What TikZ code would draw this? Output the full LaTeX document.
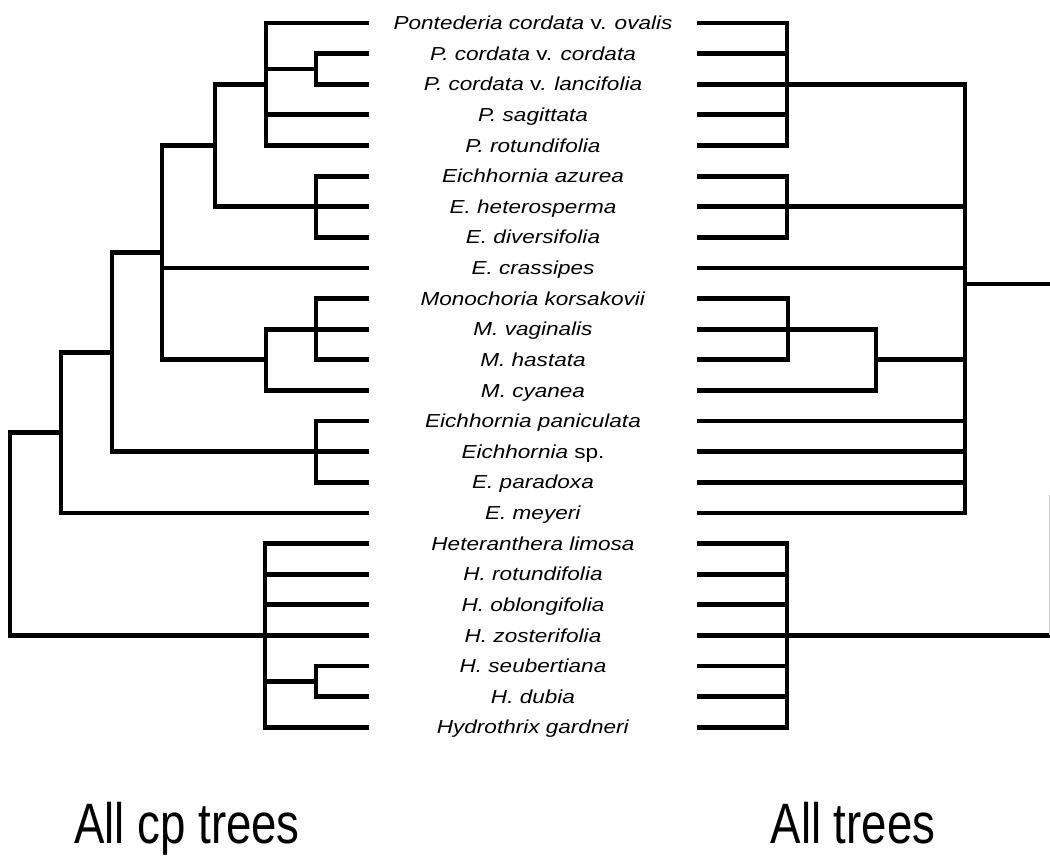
\documentclass[tikz,border=0pt]{standalone}
\usepackage{fontspec}
\usepackage{graphicx}
\setmainfont{Liberation Sans}
\newcommand\lbl[1]{\scalebox{1.2}[1]{#1}}
\newcommand\ttltext[1]{\scalebox{0.8}[1]{#1}}
\begin{document}
\begin{tikzpicture}[x=1pt,y=-1pt,
  br/.style={line width=4.8pt, line join=miter, line cap=butt},
  lab/.style={anchor=base, inner sep=0pt, font=\fontsize{18.8}{20}\selectfont},
  ttl/.style={anchor=base, inner sep=0pt, font=\fontsize{57}{60}\selectfont}]
\useasboundingbox (0,0) rectangle (1050,865);
\fill[white] (0,0) rectangle (1050,865);
% leaf end points
\foreach \i in {1,...,24}{
  \coordinate (L\i) at (369,{23+(\i-1)*30.62});
  \coordinate (R\i) at (697,{23+(\i-1)*30.62});
}
% ---------- labels ----------
\newcommand\Y[1]{23+(#1-1)*30.62+6.6}
\node[lab] (t1) at (533,{\Y{1}}) {\lbl{\textit{Pontederia cordata} v. \textit{ovalis}}};
\node[lab] (t2) at (533,{\Y{2}}) {\lbl{\textit{P. cordata} v. \textit{cordata}}};
\node[lab] (t3) at (533,{\Y{3}}) {\lbl{\textit{P. cordata} v. \textit{lancifolia}}};
\node[lab] (t4) at (533,{\Y{4}}) {\lbl{\textit{P. sagittata}}};
\node[lab] (t5) at (533,{\Y{5}}) {\lbl{\textit{P. rotundifolia}}};
\node[lab] (t6) at (533,{\Y{6}}) {\lbl{\textit{Eichhornia azurea}}};
\node[lab] (t7) at (533,{\Y{7}}) {\lbl{\textit{E. heterosperma}}};
\node[lab] (t8) at (533,{\Y{8}}) {\lbl{\textit{E. diversifolia}}};
\node[lab] (t9) at (533,{\Y{9}}) {\lbl{\textit{E. crassipes}}};
\node[lab] (t10) at (533,{\Y{10}}) {\lbl{\textit{Monochoria korsakovii}}};
\node[lab] (t11) at (533,{\Y{11}}) {\lbl{\textit{M. vaginalis}}};
\node[lab] (t12) at (533,{\Y{12}}) {\lbl{\textit{M. hastata}}};
\node[lab] (t13) at (533,{\Y{13}}) {\lbl{\textit{M. cyanea}}};
\node[lab] (t14) at (533,{\Y{14}}) {\lbl{\textit{Eichhornia paniculata}}};
\node[lab] (t15) at (533,{\Y{15}}) {\lbl{\textit{Eichhornia} sp.}};
\node[lab] (t16) at (533,{\Y{16}}) {\lbl{\textit{E. paradoxa}}};
\node[lab] (t17) at (533,{\Y{17}}) {\lbl{\textit{E. meyeri}}};
\node[lab] (t18) at (533,{\Y{18}}) {\lbl{\textit{Heteranthera limosa}}};
\node[lab] (t19) at (533,{\Y{19}}) {\lbl{\textit{H. rotundifolia}}};
\node[lab] (t20) at (533,{\Y{20}}) {\lbl{\textit{H. oblongifolia}}};
\node[lab] (t21) at (533,{\Y{21}}) {\lbl{\textit{H. zosterifolia}}};
\node[lab] (t22) at (533,{\Y{22}}) {\lbl{\textit{H. seubertiana}}};
\node[lab] (t23) at (533,{\Y{23}}) {\lbl{\textit{H. dubia}}};
\node[lab] (t24) at (533,{\Y{24}}) {\lbl{\textit{Hydrothrix gardneri}}};
% ---------- left tree: internal nodes ----------
\newcommand\R[1]{23+(#1-1)*30.62}
\coordinate (nP)  at (266,{\R{3}});
\coordinate (nPc) at (316,{\R{2.5}});
\coordinate (nEa) at (316,{\R{7}});
\coordinate (nPE) at (215,{\R{5}});
\coordinate (nM3) at (316,{\R{11}});
\coordinate (nM)  at (266,{\R{12}});
\coordinate (nA)  at (162,{\R{8.5}});
\coordinate (nEp) at (316,{\R{15}});
\coordinate (nB)  at (112,{\R{11.75}});
\coordinate (nC)  at (61,{\R{14.375}});
\coordinate (nH)  at (265,{\R{21}});
\coordinate (nHs) at (316,{\R{22.5}});
\coordinate (nRoot) at (10,{\R{17.6875}});
% Pontederia
\draw[br] (L1) -- (L1 -| nP) -- (L5 -| nP) -- (L5);
\draw[br] (L4 -| nP) -- (L4);
\draw[br] (L2) -- (L2 -| nPc) -- (L3 -| nPc) -- (L3);
\draw[br] (nPc -| nP) -- (nPc);
% Eichhornia azurea group
\draw[br] (L6) -- (L6 -| nEa) -- (L8 -| nEa) -- (L8);
\draw[br] (nEa) -- (L7);
% join
\draw[br] (nP) -- (nP -| nPE) -- (nEa -| nPE) -- (nEa);
% Monochoria
\draw[br] (L10) -- (L10 -| nM3) -- (L12 -| nM3) -- (L12);
\draw[br] (nM3) -- (L11);
\draw[br] (nM3) -- (nM3 -| nM) -- (L13 -| nM) -- (L13);
% node A
\draw[br] (nPE) -- (nPE -| nA) -- (nM -| nA) -- (nM);
\draw[br] (L9 -| nA) -- (L9);
% E. paniculata group
\draw[br] (L14) -- (L14 -| nEp) -- (L16 -| nEp) -- (L16);
\draw[br] (nEp) -- (L15);
% node B
\draw[br] (nA) -- (nA -| nB) -- (nEp -| nB) -- (nEp);
% node C
\draw[br] (nB) -- (nB -| nC) -- (L17 -| nC) -- (L17);
% Heteranthera
\draw[br] (L18) -- (L18 -| nH) -- (L24 -| nH) -- (L24);
\draw[br] (L19 -| nH) -- (L19);
\draw[br] (L20 -| nH) -- (L20);
\draw[br] (L22) -- (L22 -| nHs) -- (L23 -| nHs) -- (L23);
\draw[br] (nHs -| nH) -- (nHs);
% root
\draw[br] (nC) -- (nC -| nRoot) -- (L21 -| nRoot) -- (L21);
% ---------- right tree ----------
\coordinate (rP)  at (787,{\R{3}});
\coordinate (rEa) at (787,{\R{7}});
\coordinate (rM3) at (788,{\R{11}});
\coordinate (rM)  at (876,{\R{12}});
\coordinate (rR)  at (965,284);
\coordinate (rH)  at (787,{\R{21}});
\coordinate (rOut1) at (1052,284);
\coordinate (rOut2) at (1052,{\R{21}});
\coordinate (rEdgeA) at (1049.3,495);
\coordinate (rEdgeB) at (1049.3,{\R{21}});
\draw[br] (R1) -- (R1 -| rP) -- (R5 -| rP) -- (R5);
\draw[br] (R2) -- (R2 -| rP);
\draw[br] (R4) -- (R4 -| rP);
\draw[br] (R3) -- (R3 -| rR) -- (R17 -| rR) -- (R17);
\draw[br] (R6) -- (R6 -| rEa) -- (R8 -| rEa) -- (R8);
\draw[br] (R7) -- (R7 -| rR);
\draw[br] (R9) -- (R9 -| rR);
\draw[br] (R10) -- (R10 -| rM3) -- (R12 -| rM3) -- (R12);
\draw[br] (R11) -- (R11 -| rM) -- (R13 -| rM) -- (R13);
\draw[br] (rM) -- (rM -| rR);
\draw[br] (R14) -- (R14 -| rR);
\draw[br] (R15) -- (R15 -| rR);
\draw[br] (R16) -- (R16 -| rR);
\draw[br] (rR) -- (rOut1);
\draw[br] (R18) -- (R18 -| rH) -- (R24 -| rH) -- (R24);
\draw[br] (R19) -- (R19 -| rH);
\draw[br] (R20) -- (R20 -| rH);
\draw[br] (R22) -- (R22 -| rH);
\draw[br] (R23) -- (R23 -| rH);
\draw[br] (R21) -- (rOut2);
\draw[gray!40, line width=1.2pt] (rEdgeA) -- (rEdgeB);
% ---------- titles ----------
\node[ttl] (tl) at (187,843) {\ttltext{All cp trees}};
\node[ttl] (tr) at (853,843) {\ttltext{All trees}};
\end{tikzpicture}
\end{document}
